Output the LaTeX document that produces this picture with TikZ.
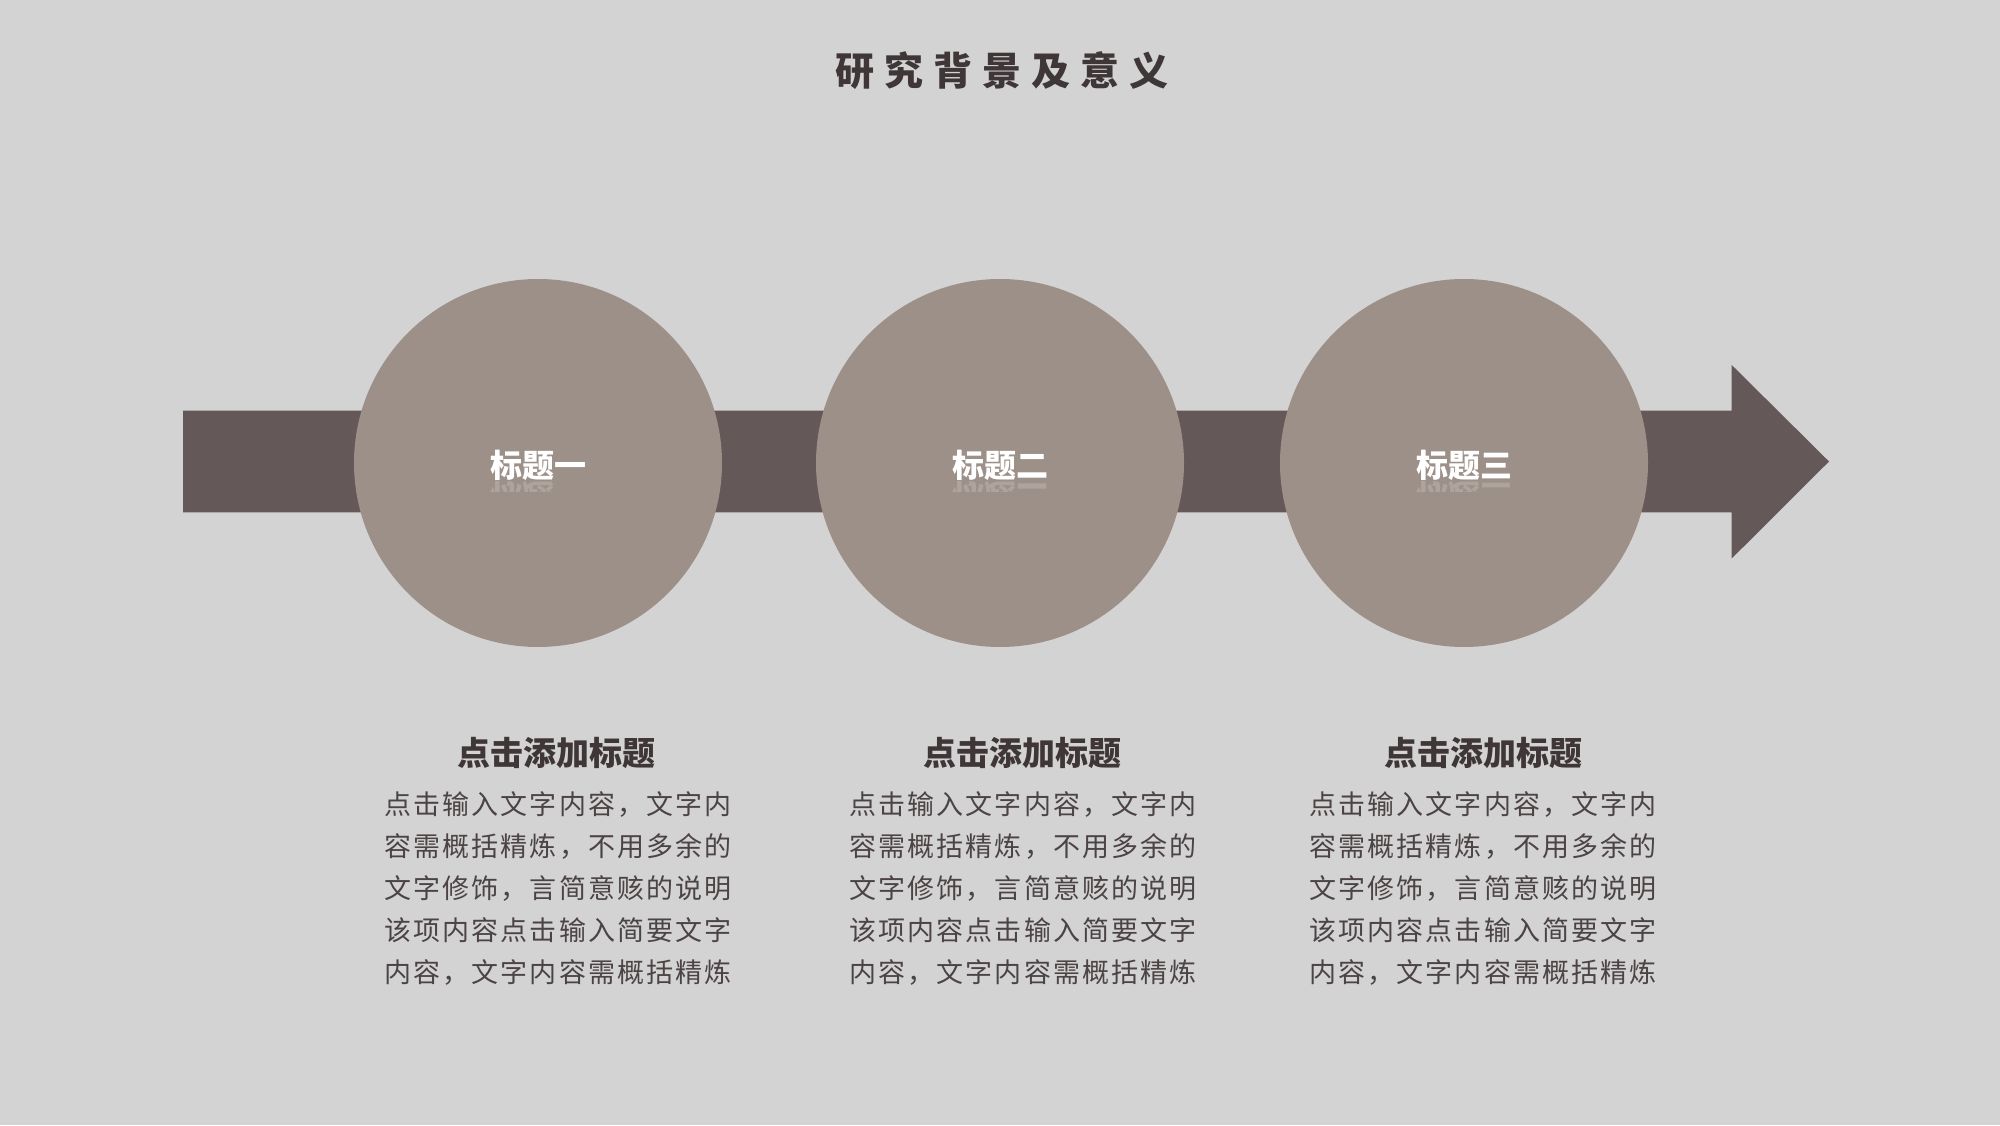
\documentclass[tikz,border=0pt]{standalone}
\usepackage{fontspec}
\newfontfamily\cjk{Noto Sans CJK SC}
\newfontfamily\cjktitle[LetterSpace=26]{Noto Sans CJK SC}
\newfontfamily\cjkbody[LetterSpace=8]{Noto Sans CJK SC}
\definecolor{bg}{HTML}{D3D3D3}
\definecolor{bar}{HTML}{645859}
\definecolor{disc}{HTML}{9C9088}
\definecolor{ink}{HTML}{3F3637}
\definecolor{body}{HTML}{4B4344}
\tikzset{
  disk/.style={circle, fill=disc, minimum size=368pt, inner sep=0pt},
  disklabel/.style={text=white, font=\cjk\bfseries\fontsize{32}{36}\selectfont, inner sep=0pt},
  heading/.style={text=ink, font=\cjk\bfseries\fontsize{33}{36}\selectfont, inner sep=0pt},
  bodytext/.style={text=body, font=\cjkbody\fontsize{27}{42}\selectfont, align=center, inner sep=0pt},
}
\begin{document}
\begin{tikzpicture}[x=1pt,y=1pt]
\fill[bg] (0,0) rectangle (2000,1125);
\useasboundingbox (0,0) rectangle (2000,1125);
% title
\node[text=ink, font=\cjktitle\bfseries\fontsize{39}{44}\selectfont, inner sep=0pt] (title) at (1002,1054) {研究背景及意义};
% arrow
\fill[bar] (183,714.3) -- (1731.7,714.3) -- (1731.7,760) -- (1829,663.5) -- (1731.7,566.5) -- (1731.7,612.7) -- (183,612.7) -- cycle;
% circles
\node[disk] (c1) at (538,662) {};
\node[disk] (c2) at (1000,662) {};
\node[disk] (c3) at (1464,662) {};
% labels with reflection
\foreach \cx/\t/\n in {538/标题一/a,1000/标题二/b,1464/标题三/c}{
  \begin{scope}
    \clip (\cx-70,633) rectangle (\cx+70,645);
    \begin{scope}[yscale=-1, shift={(0,-1288)}]
      \node[disklabel, transform shape, opacity=0.18] (r\n) at (\cx,660) {\t};
    \end{scope}
  \end{scope}
  \node[disklabel] (l\n) at (\cx,660) {\t};
}
% headings
\node[heading] (h1) at (556,372) {点击添加标题};
\node[heading] (h2) at (1022,372) {点击添加标题};
\node[heading] (h3) at (1483,372) {点击添加标题};
% body
\node[bodytext] (b1) at (558,236) {点击输入文字内容，文字内\\容需概括精炼，不用多余的\\文字修饰，言简意赅的说明\\该项内容点击输入简要文字\\内容，文字内容需概括精炼};
\node[bodytext] (b2) at (1023,236) {点击输入文字内容，文字内\\容需概括精炼，不用多余的\\文字修饰，言简意赅的说明\\该项内容点击输入简要文字\\内容，文字内容需概括精炼};
\node[bodytext] (b3) at (1483,236) {点击输入文字内容，文字内\\容需概括精炼，不用多余的\\文字修饰，言简意赅的说明\\该项内容点击输入简要文字\\内容，文字内容需概括精炼};
\end{tikzpicture}
\end{document}
